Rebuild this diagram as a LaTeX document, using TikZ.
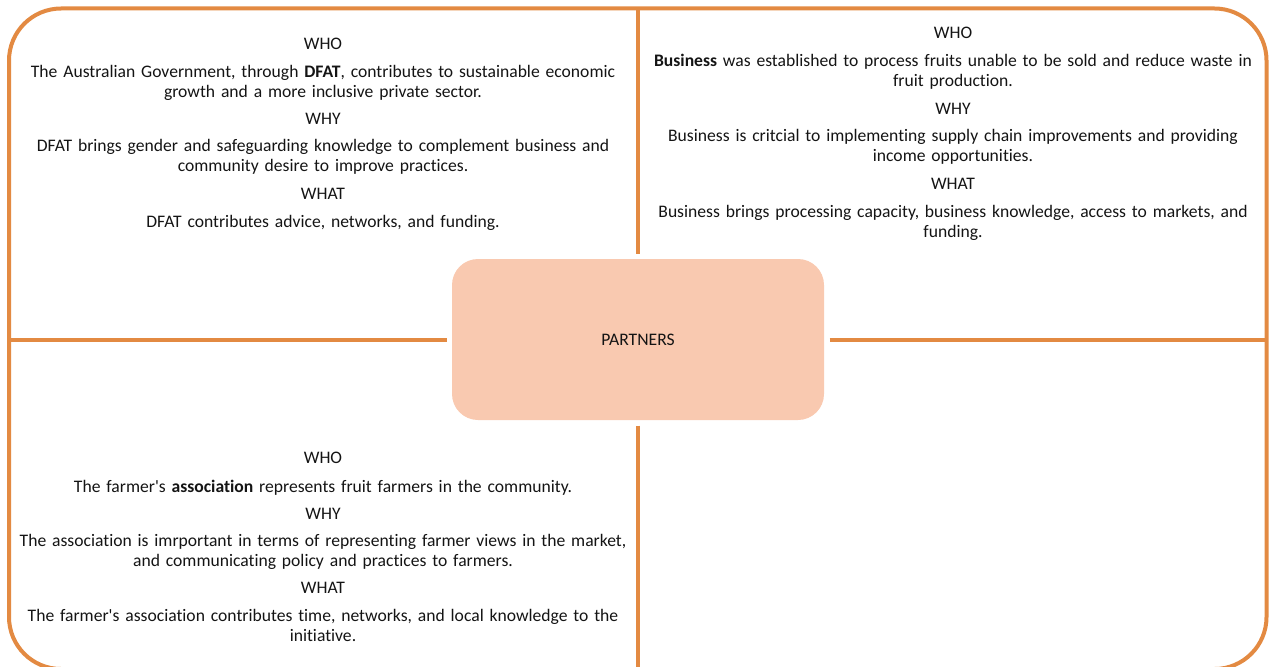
\documentclass[tikz,border=0pt]{standalone}
\usepackage{fontspec}
\setmainfont[Ligatures={NoCommon}]{Carlito}
\definecolor{framecol}{RGB}{227,138,66}
\definecolor{hubfill}{RGB}{249,201,176}
\definecolor{txt}{RGB}{20,20,20}
\begin{document}
\begin{tikzpicture}[x=1pt,y=-1pt,
  divider/.style={draw=framecol,line width=4pt},
  hub/.style={fill=hubfill,rounded corners=26pt,minimum width=372pt,minimum height=161pt,
    inner sep=0pt,outer sep=5.5pt,font=\fontsize{17.6}{20}\selectfont,text=txt},
  block/.style={anchor=base,inner sep=0pt,text width=640pt,align=center,
    font=\fontsize{17.6}{20}\selectfont,text=txt}]
\useasboundingbox (0,0) rectangle (1273,666);
% outer frame
\node[draw=framecol,line width=4pt,rounded corners=52pt,inner sep=0pt,outer sep=0pt,
  minimum width=1257.5pt,minimum height=660.5pt] (frame) at (637.75,338.75) {};
% central hub
\node[hub] (partners) at (638,339.5) {PARTNERS};
% quadrant dividers
\draw[divider] (partners.north) -- (partners.north |- frame.north);
\draw[divider] (partners.south) -- (partners.south |- frame.south);
\draw[divider] (partners.west) -- (partners.west -| frame.west);
\draw[divider] (partners.east) -- (partners.east -| frame.east);
% quadrant texts
\node[block] (dfat) at (323,50) {WHO\\[8pt]
The Australian Government, through \textbf{DFAT}, contributes to sustainable economic\\
growth and a more inclusive private sector.\\[7pt]
WHY\\[7pt]
DFAT brings gender and safeguarding knowledge to complement business and\\
community desire to improve practices.\\[8pt]
WHAT\\[8pt]
DFAT contributes advice, networks, and funding.};
\node[block] (business) at (953,39) {WHO\\[8pt]
\textbf{Business} was established to process fruits unable to be sold and reduce waste in\\
fruit production.\\[8pt]
WHY\\[7pt]
Business is critcial to implementing supply chain improvements and providing\\
income opportunities.\\[8pt]
WHAT\\[8pt]
Business brings processing capacity, business knowledge, access to markets, and\\
funding.};
\node[block] (assoc) at (323,463.5) {WHO\\[9pt]
The farmer\textquotesingle s \textbf{association} represents fruit farmers in the community.\\[7pt]
WHY\\[7pt]
The association is imrportant in terms of representing farmer views in the market,\\
and communicating policy and practices to farmers.\\[7pt]
WHAT\\[8pt]
The farmer\textquotesingle s association contributes time, networks, and local knowledge to the\\
initiative.};
\end{tikzpicture}
\end{document}
